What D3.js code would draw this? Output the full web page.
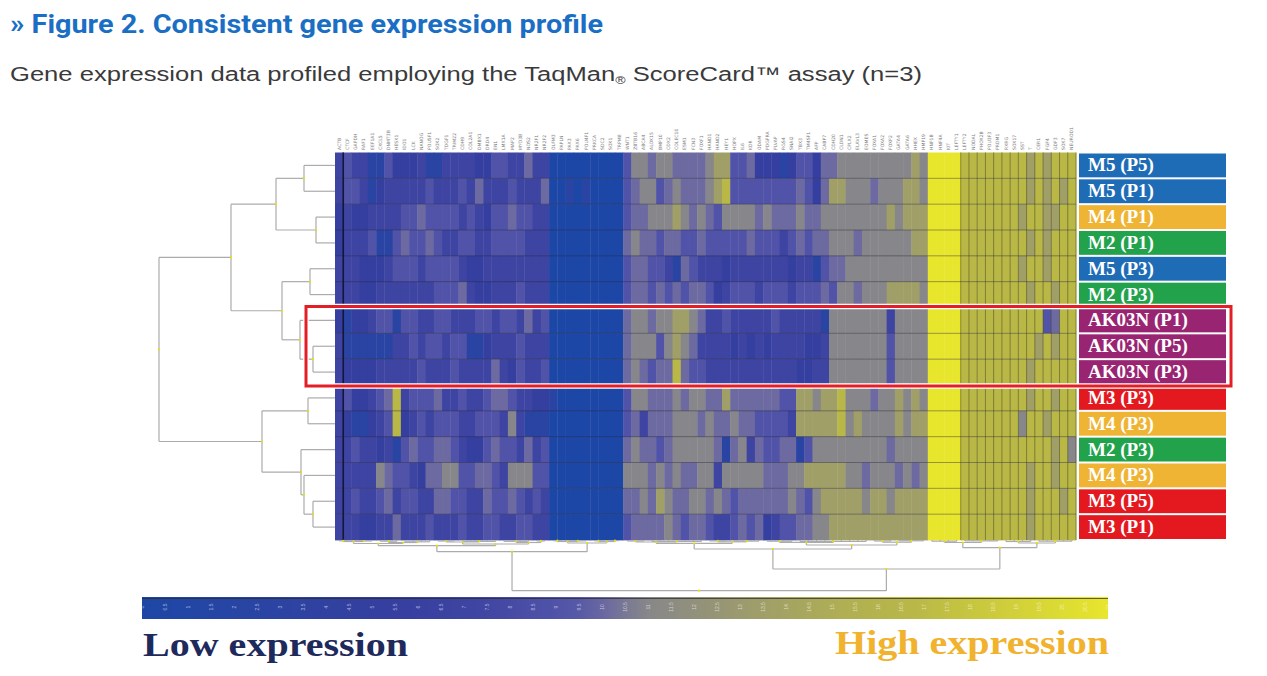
<!DOCTYPE html>
<html lang="en">
<head>
  <meta charset="UTF-8">
  <title>Consistent gene expression profile</title>
  <script src="https://d3js.org/d3.v7.min.js"></script>
  <style>
    body { margin: 0; background: #fff; }
  </style>
</head>
<body>
  <script>
    // 1. Data
    const samples = ["M5 (P5)", "M5 (P1)", "M4 (P1)", "M2 (P1)", "M5 (P3)", "M2 (P3)",
                     "AK03N (P1)", "AK03N (P5)", "AK03N (P3)",
                     "M3 (P3)", "M4 (P3)", "M2 (P3)", "M4 (P3)", "M3 (P5)", "M3 (P1)"];

    const genes = ["ACTB","CTCF","GAPDH","RAF1","EEF1A1","CXCL5","DNMT3B","HESX1","IDO1","LCK",
                   "NANOG","POU5F1","SOX2","TDGF1","TRIM22","CDH9","COL2A1","DMBX1","DRD4","EN1",
                   "LMX1A","MAP2","MYO3B","NOS2","NR2F1","NR2F2","OLFM3","PAPLN","PAX3","PAX6",
                   "POU4F1","PRKCA","SDC2","SOX1","TRPM8","WNT1","ZBTB16","ABCA4","ALOX15","BMP10",
                   "CDX2","COLEC10","ESM1","FCN3","FOXF1","HAND1","HAND2","HEY1","HOPX","IL6",
                   "KDR","ODAM","PDGFRA","PLVAP","RGS4","SNAI2","TBX3","TM4SF1","AFP","CABP7",
                   "CDH20","CLDN1","CPLX2","ELAVL3","EOMES","FOXA1","FOXA2","FOXP2","GATA4","GATA6",
                   "HHEX","HMP19","HNF1B","HNF4A","KIT","LEFTY1","LEFTY2","NODAL","PHOX2B","POU3F3",
                   "PRDM1","RXRG","SOX17","SST","T","CER1","FGF4","GDF3","SOX7","NEUROD1"];

    // expression level per cell, 0 (low) .. 9 (high), one string per sample row
    const rowValues = [
      "3433114222" + "3113333224" + "4335330000" + "0000046656" + "6555567744" + "5222124425" + "5666666666" + "7699998888" + "8888787888",
      "3443123333" + "3433343533" + "3433350010" + "1000045664" + "5655567844" + "4444445425" + "7766656667" + "7699998888" + "8888787878",
      "2322333344" + "5444434324" + "4544330000" + "0000045566" + "6765654666" + "6565556556" + "6666666767" + "7799998888" + "8887887788",
      "2333411454" + "4543344334" + "4443330000" + "0000056554" + "5544544444" + "5444345455" + "6665666666" + "7799998888" + "8888787888",
      "3332223444" + "3444432233" + "3333330000" + "0000045544" + "3154333233" + "3333323314" + "5566666666" + "6699998888" + "8887887888",
      "3332233333" + "3344453223" + "3343330000" + "0000045545" + "4545542344" + "4344434445" + "4665666777" + "7699998888" + "8888788788",
      "2122344144" + "3344333443" + "4435340000" + "0000056656" + "6776533433" + "3334333331" + "6666666366" + "6699998888" + "8888884588",
      "3111111334" + "3443441123" + "3343330000" + "0000056664" + "6765333323" + "2323333223" + "6666666466" + "6699998888" + "8888878788",
      "3222233333" + "4333433335" + "3243340000" + "0000056545" + "5854433333" + "3333332233" + "6666666466" + "6699998888" + "8888788888",
      "3422345834" + "4453343345" + "5433221000" + "0000046655" + "5656655755" + "5555447767" + "7866656676" + "7699998888" + "8888788788",
      "3211234823" + "4344433444" + "3631110000" + "0000045355" + "5666565565" + "5444437777" + "7867666676" + "7799998888" + "8886887888",
      "3343323145" + "4455432245" + "4435340000" + "0000056554" + "5666665156" + "3544551466" + "6666666566" + "6699998888" + "8888888786",
      "3333365443" + "2556644554" + "3666440000" + "0000066656" + "5655663666" + "6655566777" + "7766566656" + "5699998888" + "8888788788",
      "3343345344" + "3355443354" + "4543430000" + "0000055657" + "6556656545" + "5555565467" + "7777677677" + "7799998888" + "8888788878",
      "3332233533" + "3433343344" + "3344330000" + "0000045555" + "6545543345" + "4523445566" + "7777777777" + "7799998888" + "8888788888"
    ];

    const lineColors = { M5: "#1f6cb6", M4: "#efb434", M2: "#23a24c", AK03N: "#992572", M3: "#e3191f" };

    // dendrograms: [mergeHeight, child, child, ...], leaves are row / column indices
    const rowTree = [176,
      [104, [59, [31, 0, 1], [19, 2, 3]], [53, [25, 4, 5], [35, 6, [22, 7, 8]]]],
      [73, [27, 9, 10], [34, 11, [31, 12, [22, 13, 14]]]]];

    const colTree = [50.7,
      [11.7,
        [5.7,
          [3.5, [1.5, [0.8, 0, 1], [1, 2, 3, 4]], [2.5, [1.2, 5, 6, 7], [1.8, 8, 9, 10, 11]]],
          [4, [2, [1, 12, 13, 14], [1.4, 15, 16, 17, 18, 19]], [2.5, [1.3, 20, 21, 22, 23], [0.9, 24, 25]]]],
        [3, [1.5, [0.7, 26, 27], [0.9, 28, 29, 30]], [1.5, [0.8, 31, 32], [0.6, 33, 34]]]],
      [29,
        [9,
          [3.3, [2, [1, 35, 36, 37], [1.4, 38, 39, 40, 41, 42, 43, 44]], [1.8, [0.9, 45, 46, 47], [1.1, 48, 49, 50, 51]]],
          [5, [2.4, [1.2, 52, 53, 54, 55], [1.5, 56, 57, 58, 59, 60, 61, 62, 63, 64]], [2.2, [1, 65, 66, 67], [0.8, 68, 69, 70, 71]]]],
        [7.7,
          [2.5, [1.2, 72, 73, 74, 75], [0.9, 76, 77, 78, 79, 80]],
          [3, [1.5, 81, 82, 83, 84], [1.2, 85, 86, 87, 88, 89]]]]];

    const boxedRows = [6, 8];       // AK03N rows framed in red
    const gridFromColumn = 76;      // columns drawn with visible cell borders

    // 2. SVG Canvas
    const width = 1267, height = 676;
    const svg = d3.select("body").append("svg")
                  .attr("width", width)
                  .attr("height", height);

    // 3. Scales
    const x = d3.scaleBand().domain(d3.range(genes.length)).range([335, 1076]);
    const y = d3.scaleBand().domain(d3.range(samples.length)).range([152.5, 540]);

    const levelColors = ["#1d47a6", "#2a44a3", "#343f9f", "#3e44a2", "#5153a9",
                         "#6c6aa0", "#87868a", "#a09f68", "#b9b847", "#e8e62c"];
    const color = d3.scaleLinear().domain(d3.range(10)).range(levelColors);

    // 4. Title
    svg.append("text")
       .attr("x", 10).attr("y", 33)
       .attr("font-family", "Roboto, 'Liberation Sans', sans-serif")
       .attr("font-weight", 700).attr("font-size", 25)
       .attr("fill", "#1a6fc4")
       .attr("textLength", 593).attr("lengthAdjust", "spacingAndGlyphs")
       .text("» Figure 2. Consistent gene expression profile");

    const sub = svg.append("text")
       .attr("x", 10).attr("y", 81)
       .attr("font-family", "'Liberation Sans', Arial, sans-serif")
       .attr("font-size", 20)
       .attr("fill", "#3a3a3a")
       .attr("textLength", 912).attr("lengthAdjust", "spacingAndGlyphs");
    sub.append("tspan").text("Gene expression data profiled employing the TaqMan");
    sub.append("tspan").attr("font-size", 11).attr("dy", 3).text("®");
    sub.append("tspan").attr("dy", -3).text(" ScoreCard™ assay (n=3)");

    // 5. Heatmap cells
    const cells = [];
    rowValues.forEach((row, r) => row.split("").forEach((v, c) => cells.push({ r, c, v: +v })));

    svg.append("g").selectAll("rect")
       .data(cells)
       .enter()
       .append("rect")
       .attr("x", d => x(d.c))
       .attr("y", d => y(d.r))
       .attr("width", x.bandwidth() + 0.4)
       .attr("height", y.bandwidth() + 0.4)
       .attr("fill", d => color(d.v));

    // row separators and cell borders on the right block
    svg.append("g").selectAll("line")
       .data(d3.range(1, samples.length))
       .enter().append("line")
       .attr("x1", x(0)).attr("x2", x(genes.length - 1) + x.bandwidth())
       .attr("y1", d => y(d)).attr("y2", d => y(d))
       .attr("stroke", "#2a2a3c").attr("stroke-opacity", 0.55).attr("stroke-width", 0.8);

    svg.append("g").selectAll("line")
       .data(d3.range(gridFromColumn, genes.length + 1))
       .enter().append("line")
       .attr("x1", d => x(0) + d * x.step()).attr("x2", d => x(0) + d * x.step())
       .attr("y1", y(0)).attr("y2", y(samples.length - 1) + y.bandwidth())
       .attr("stroke", "#3a3a1c").attr("stroke-opacity", 0.6).attr("stroke-width", 0.8);

    svg.append("line")
       .attr("x1", x(1)).attr("x2", x(1))
       .attr("y1", y(0)).attr("y2", y(samples.length - 1) + y.bandwidth())
       .attr("stroke", "#15163a").attr("stroke-width", 1.6);

    // 6. Gene labels (tiny, rotated)
    svg.append("g").selectAll("text")
       .data(genes)
       .enter().append("text")
       .attr("transform", (d, i) => `translate(${x(i) + x.bandwidth() / 2 + 1.5}, 150) rotate(-90)`)
       .attr("font-family", "'DejaVu Sans', sans-serif")
       .attr("font-size", 4.6)
       .attr("fill", "#7a7a7a")
       .text(d => d);

    // 7. Dendrograms
    function layout(node, pos) {
      if (typeof node === "number") return { h: 0, p: pos(node) };
      const kids = node.slice(1).map(k => layout(k, pos));
      return { h: node[0], kids, p: (kids[0].p + kids[kids.length - 1].p) / 2 };
    }
    function segments(n, out) {
      if (!n.kids) return out;
      n.kids.forEach(k => {
        out.push({ a: [k.h, k.p], b: [n.h, k.p] });
        segments(k, out);
      });
      out.push({ a: [n.h, n.kids[0].p], b: [n.h, n.kids[n.kids.length - 1].p], node: n });
      return out;
    }

    const rowH = d3.scaleLinear().domain([0, 176]).range([335, 159]);
    const rowRoot = layout(rowTree, r => y(r) + y.bandwidth() / 2);
    const rowSegs = segments(rowRoot, []);
    const dendro = svg.append("g")
       .attr("stroke", "#ababab").attr("stroke-width", 1.2).attr("fill", "none");
    dendro.selectAll("line.row")
       .data(rowSegs)
       .enter().append("line").attr("class", "row")
       .attr("x1", d => rowH(d.a[0])).attr("y1", d => d.a[1])
       .attr("x2", d => rowH(d.b[0])).attr("y2", d => d.b[1]);

    const colH = d3.scaleLinear().domain([0, 50.7]).range([540, 590.7]);
    const colRoot = layout(colTree, c => x(c) + x.bandwidth() / 2);
    const colSegs = segments(colRoot, []);
    dendro.selectAll("line.col")
       .data(colSegs)
       .enter().append("line").attr("class", "col")
       .attr("x1", d => d.a[1]).attr("y1", d => colH(d.a[0]))
       .attr("x2", d => d.b[1]).attr("y2", d => colH(d.b[0]));

    // small yellow node marks
    svg.append("g").selectAll("circle.r")
       .data(rowSegs.filter(d => d.node))
       .enter().append("circle").attr("class", "r")
       .attr("cx", d => rowH(d.node.h)).attr("cy", d => d.node.p)
       .attr("r", 1.1).attr("fill", "#e9e000");
    svg.append("g").selectAll("circle.c")
       .data(colSegs.filter(d => d.node))
       .enter().append("circle").attr("class", "c")
       .attr("cx", d => d.node.p).attr("cy", d => colH(d.node.h))
       .attr("r", 1.1).attr("fill", "#e9e000");

    // 8. Sample labels
    const labels = svg.append("g").selectAll("g")
       .data(samples)
       .enter().append("g")
       .attr("transform", (d, i) => `translate(1079, ${y(i)})`);
    labels.append("rect")
       .attr("y", 1).attr("width", 147).attr("height", y.bandwidth() - 2)
       .attr("fill", d => lineColors[d.split(" ")[0]]);
    labels.append("text")
       .attr("x", 9).attr("y", y.bandwidth() / 2 + 6)
       .attr("font-family", "'Liberation Serif', 'DejaVu Serif', serif")
       .attr("font-weight", 700).attr("font-size", 19)
       .attr("fill", "#fff")
       .text(d => d);

    // 9. Red frame round the AK03N rows
    const frame = {
      x: 306, w: 925,
      y: y(boxedRows[0]) - 1,
      h: y(boxedRows[1]) + y.bandwidth() - y(boxedRows[0]) + 2
    };
    svg.append("rect")
       .attr("x", frame.x).attr("y", frame.y).attr("width", frame.w).attr("height", frame.h)
       .attr("fill", "none").attr("stroke", "#fff").attr("stroke-width", 5.5);
    svg.append("rect")
       .attr("x", frame.x).attr("y", frame.y).attr("width", frame.w).attr("height", frame.h)
       .attr("fill", "none").attr("stroke", "#e31e26").attr("stroke-width", 3);

    // 10. Colour bar
    const barX = d3.scaleLinear().domain([0, 21]).range([142, 1108]);
    const barLevel = d3.scaleLinear().domain([0, 0.3, 0.45, 0.52, 0.72, 1]).range([0, 2.5, 4.2, 6, 7.6, 9]);
    const grad = svg.append("defs").append("linearGradient")
       .attr("id", "bar-grad").attr("x1", "0%").attr("x2", "100%");
    grad.selectAll("stop")
       .data(d3.range(0, 1.0001, 0.025))
       .enter().append("stop")
       .attr("offset", d => `${d * 100}%`)
       .attr("stop-color", d => color(barLevel(d)));

    svg.append("rect")
       .attr("x", barX(0)).attr("y", 597)
       .attr("width", barX(21) - barX(0)).attr("height", 22)
       .attr("fill", "url(#bar-grad)");
    svg.append("line")
       .attr("x1", barX(0)).attr("x2", barX(21))
       .attr("y1", 598.5).attr("y2", 598.5)
       .attr("stroke", "#2a2a2a").attr("stroke-opacity", 0.7).attr("stroke-width", 1);

    const barAxis = svg.append("g")
       .attr("transform", "translate(0, 607)")
       .call(d3.axisBottom(barX).ticks(42).tickSize(0).tickFormat(d3.format("")));
    barAxis.select(".domain").remove();
    barAxis.selectAll("text")
       .attr("transform", "rotate(-90)")
       .attr("x", 0).attr("y", 0).attr("dy", "0.3em")
       .attr("text-anchor", "middle")
       .attr("font-size", 5)
       .attr("fill", "#ffffff").attr("fill-opacity", 0.6);

    // 11. Low / high legend words
    svg.append("text")
       .attr("x", 143).attr("y", 656)
       .attr("font-family", "'Liberation Serif', 'DejaVu Serif', serif")
       .attr("font-weight", 700).attr("font-size", 34)
       .attr("fill", "#1f2a5c")
       .attr("textLength", 265).attr("lengthAdjust", "spacingAndGlyphs")
       .text("Low expression");
    svg.append("text")
       .attr("x", 1109).attr("y", 654)
       .attr("text-anchor", "end")
       .attr("font-family", "'Liberation Serif', 'DejaVu Serif', serif")
       .attr("font-weight", 700).attr("font-size", 34)
       .attr("fill", "#f1b22e")
       .attr("textLength", 274).attr("lengthAdjust", "spacingAndGlyphs")
       .text("High expression");
  </script>
</body>
</html>
